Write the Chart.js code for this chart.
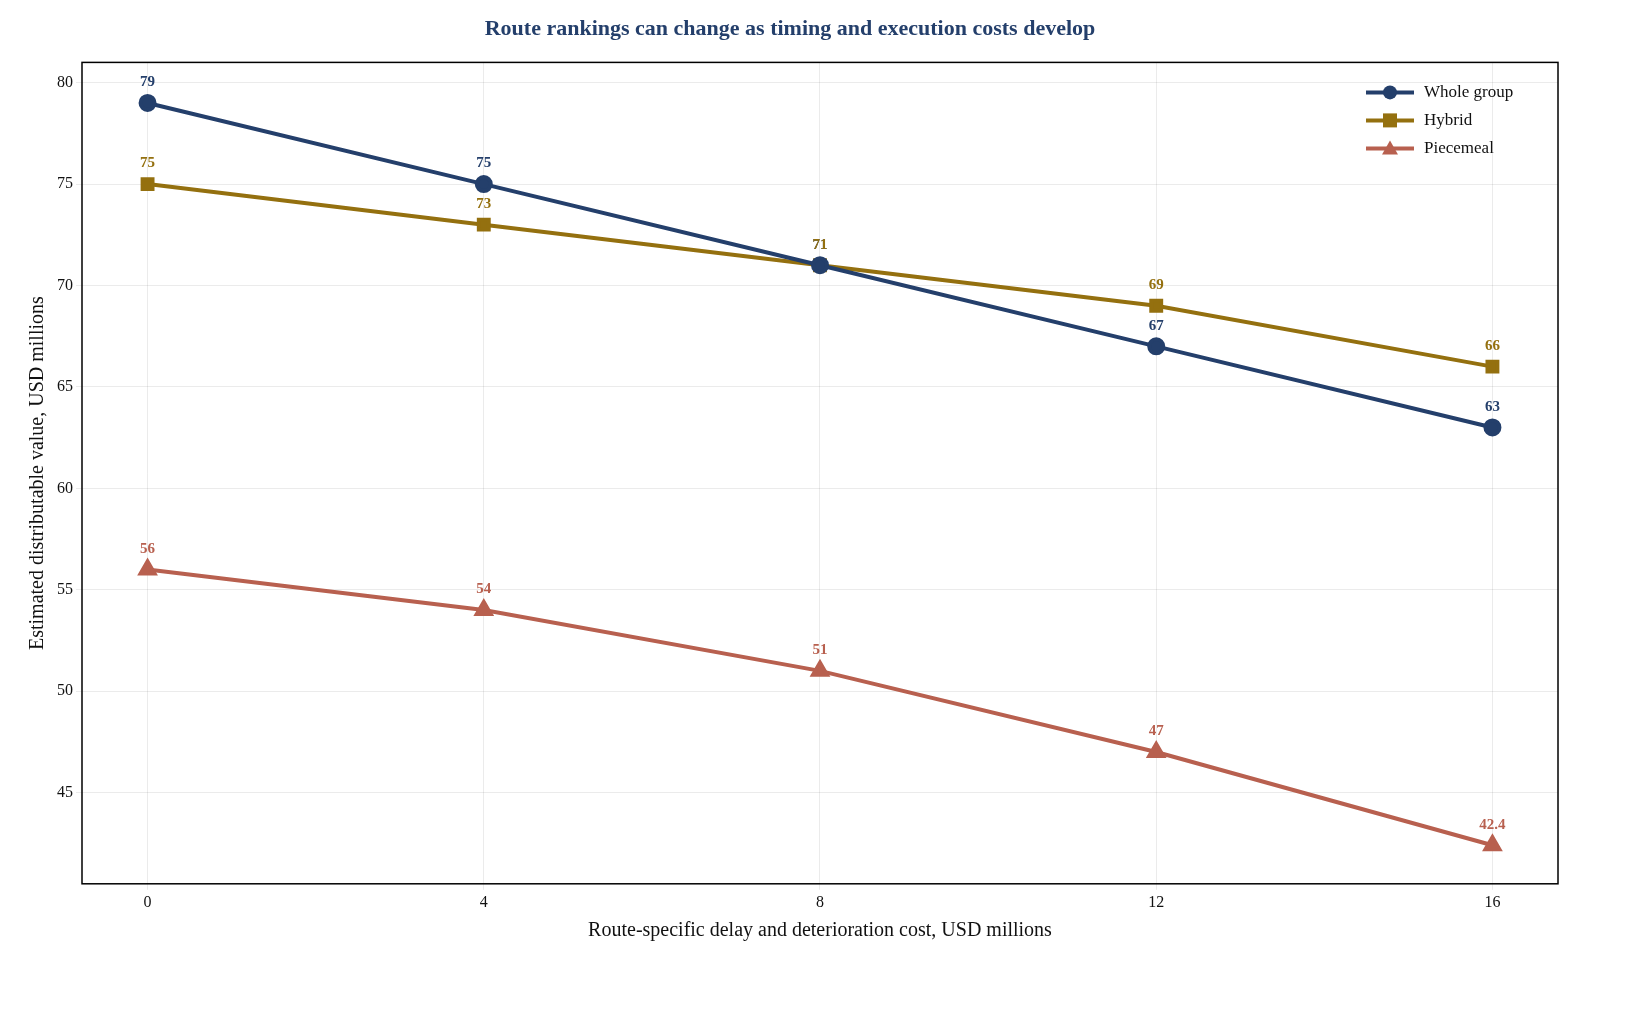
<!DOCTYPE html>
<html lang="en">
<head>
<meta charset="UTF-8">
<title>Route rankings</title>
<script src="https://cdn.jsdelivr.net/npm/chart.js"></script>
<style>
  body { margin: 0; background: #fff; }
  #wrap { width: 1642px; height: 1013px; }
</style>
</head>
<body>
<div id="wrap"><canvas id="chart"></canvas></div>
<script>
const costs = [0, 4, 8, 12, 16];
const wholeGroup = [79, 75, 71, 67, 63];
const hybrid = [75, 73, 71, 69, 66];
const piecemeal = [56, 54, 51, 47, 42.4];
const seriesNames = ["Whole group", "Hybrid", "Piecemeal"];
const colors = ["#243f6b", "#94700f", "#b8604f"];
const markers = ["circle", "rect", "triangle"];

const FONT = "'Liberation Serif', 'DejaVu Serif', serif";

function toPoints(vals) { return costs.map((c, i) => ({ x: c, y: vals[i] })); }

// value labels above each marker
const valueLabels = {
  id: "valueLabels",
  afterDatasetsDraw(chart) {
    const ctx = chart.ctx;
    ctx.save();
    ctx.font = "bold 15px " + FONT;
    ctx.textAlign = "center";
    ctx.textBaseline = "bottom";
    chart.data.datasets.forEach((ds, i) => {
      chart.getDatasetMeta(i).data.forEach((pt, j) => {
        ctx.fillStyle = ds.borderColor;
        ctx.fillText(String(ds.data[j].y), pt.x, pt.y - 13);
      });
    });
    ctx.restore();
  }
};

// legend drawn inside the plot, top right
const innerLegend = {
  id: "innerLegend",
  afterDraw(chart) {
    const ctx = chart.ctx, a = chart.chartArea;
    ctx.save();
    ctx.font = "17px " + FONT;
    ctx.textBaseline = "middle";
    chart.data.datasets.forEach((ds, i) => {
      const y = a.top + 30 + i * 28;
      const x0 = a.right - 192;
      ctx.strokeStyle = ds.borderColor;
      ctx.lineWidth = 4;
      ctx.beginPath(); ctx.moveTo(x0, y); ctx.lineTo(x0 + 48, y); ctx.stroke();
      ctx.fillStyle = ds.borderColor;
      const cx = x0 + 24;
      if (i === 0) { ctx.beginPath(); ctx.arc(cx, y, 7, 0, Math.PI * 2); ctx.fill(); }
      else if (i === 1) { ctx.fillRect(cx - 7, y - 7, 14, 14); }
      else { ctx.beginPath(); ctx.moveTo(cx, y - 8); ctx.lineTo(cx + 8, y + 6); ctx.lineTo(cx - 8, y + 6); ctx.closePath(); ctx.fill(); }
      ctx.fillStyle = "#111";
      ctx.fillText(ds.label, x0 + 58, y);
    });
    ctx.restore();
  }
};

// black frame around plot area
const frame = {
  id: "frame",
  afterDraw(chart) {
    const ctx = chart.ctx, a = chart.chartArea;
    ctx.save();
    ctx.strokeStyle = "#000";
    ctx.lineWidth = 1.5;
    ctx.strokeRect(a.left, a.top, a.right - a.left, a.bottom - a.top);
    ctx.restore();
  }
};

const datasets = [wholeGroup, hybrid, piecemeal].map((vals, i) => ({
  label: seriesNames[i],
  data: toPoints(vals),
  borderColor: colors[i],
  backgroundColor: colors[i],
  borderWidth: 4,
  pointStyle: markers[i],
  pointRadius: i === 2 ? 8 : 7,
  pointHoverRadius: 7,
  tension: 0
}));

new Chart(document.getElementById("chart"), {
  type: "line",
  data: { datasets },
  plugins: [valueLabels, innerLegend, frame],
  options: {
    responsive: true,
    maintainAspectRatio: false,
    animation: false,
    layout: { padding: { left: 22, right: 84, top: 4, bottom: 66 } },
    plugins: {
      legend: { display: false },
      tooltip: { enabled: false },
      title: {
        display: true,
        text: "Route rankings can change as timing and execution costs develop",
        color: "#243f6b",
        font: { family: FONT, size: 22, weight: "bold" },
        padding: { top: 12, bottom: 20 }
      }
    },
    scales: {
      x: {
        type: "linear",
        min: -0.78, max: 16.78,
        afterBuildTicks: s => { s.ticks = costs.map(v => ({ value: v })); },
        grid: { color: "rgba(0,0,0,0.08)", drawTicks: true, tickLength: 6 },
        border: { display: false },
        ticks: { color: "#111", font: { family: FONT, size: 16 } },
        title: { display: true, text: "Route-specific delay and deterioration cost, USD millions",
                 color: "#111", font: { family: FONT, size: 20 }, padding: { top: 4 } }
      },
      y: {
        min: 40.5, max: 81,
        afterBuildTicks: s => { s.ticks = [45, 50, 55, 60, 65, 70, 75, 80].map(v => ({ value: v })); },
        grid: { color: "rgba(0,0,0,0.08)", tickLength: 6 },
        border: { display: false },
        ticks: { color: "#111", font: { family: FONT, size: 16 } },
        title: { display: true, text: "Estimated distributable value, USD millions",
                 color: "#111", font: { family: FONT, size: 20 } }
      }
    }
  }
});
</script>
</body>
</html>
